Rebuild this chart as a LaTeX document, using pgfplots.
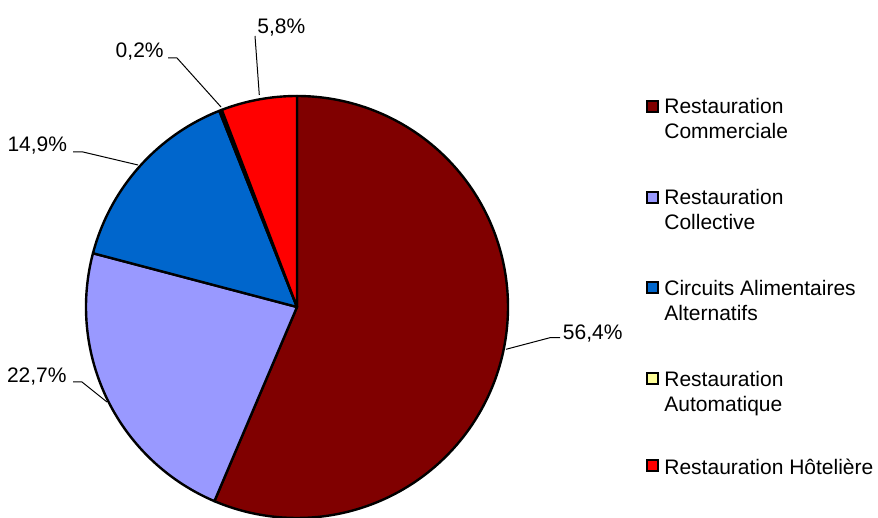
\documentclass[border=0pt]{standalone}
\usepackage{pgfplots}
\pgfplotsset{compat=1.18}
\usepackage{pgfplotstable}
\usepackage{fontspec}
\setmainfont{Liberation Sans}
\definecolor{cCom}{HTML}{800000}
\definecolor{cCol}{HTML}{9999FF}
\definecolor{cCir}{HTML}{0066CC}
\definecolor{cAut}{HTML}{FFFF99}
\definecolor{cHot}{HTML}{FF0000}

\pgfplotstableread[col sep=comma]{
label,value
Commerciale,56.4
Collective,22.7
Circuits,14.9
Automatique,0.2
Hoteliere,5.8
}\piedata

\begin{document}
\begin{tikzpicture}[
  lab/.style={font=\fontsize{10.5pt}{12.5pt}\selectfont, inner sep=0pt},
  lead/.style={draw=black, line width=0.5pt},
]
\pgfplotstablegetelem{0}{value}\of\piedata \let\vA\pgfplotsretval
\pgfplotstablegetelem{1}{value}\of\piedata \let\vB\pgfplotsretval
\pgfplotstablegetelem{2}{value}\of\piedata \let\vC\pgfplotsretval
\pgfplotstablegetelem{3}{value}\of\piedata \let\vD\pgfplotsretval
\pgfplotstablegetelem{4}{value}\of\piedata \let\vE\pgfplotsretval
\pgfmathsetmacro\aA{90}
\pgfmathsetmacro\aB{\aA-3.6*\vA}
\pgfmathsetmacro\aC{\aB-3.6*\vB}
\pgfmathsetmacro\aD{\aC-3.6*\vC}
\pgfmathsetmacro\aE{\aD-3.6*\vD}
\pgfmathsetmacro\aF{\aE-3.6*\vE}
\begin{axis}[
  hide axis, scale only axis, width=439pt, height=259pt,
  xmin=0, xmax=878, ymin=0, ymax=518, clip=false,
  every axis plot/.append style={draw=black, line width=1.2pt, line join=round, samples=150},
]
\addplot[fill=cCom, domain=\aB:\aA] ({297+211*cos(x)},{211+211*sin(x)}) -- (297,211) -- cycle;
\addplot[fill=cCol, domain=\aC:\aB] ({297+211*cos(x)},{211+211*sin(x)}) -- (297,211) -- cycle;
\addplot[fill=cCir, domain=\aD:\aC] ({297+211*cos(x)},{211+211*sin(x)}) -- (297,211) -- cycle;
\addplot[fill=cAut, domain=\aE:\aD, samples=10] ({297+211*cos(x)},{211+211*sin(x)}) -- (297,211) -- cycle;
\addplot[fill=cHot, domain=\aF:\aE] ({297+211*cos(x)},{211+211*sin(x)}) -- (297,211) -- cycle;

% leader lines and percentage labels
\draw[lead] (506,168.7) -- (550,180.3) -- (560,180.3);
\node[lab, anchor=base west] at (562.5,178) {56,4\%};
\draw[lead] (107,116) -- (82,136) -- (73,136);
\node[lab, anchor=base east] at (67,135) {22,7\%};
\draw[lead] (138,353) -- (83,366) -- (73,366);
\node[lab, anchor=base east] at (67.5,366) {14,9\%};
\draw[lead] (221,411) -- (177,460) -- (168,460);
\node[lab, anchor=base east] at (164,460) {0,2\%};
\draw[lead] (259.3,423) -- (255,482);
\node[lab, anchor=base west] at (257,484) {5,8\%};

% legend
\draw[black, line width=1pt, fill=cCom] (647,405.5) rectangle (658,416.5);
\node[lab, anchor=base west] at (664,404) {Restauration};
\node[lab, anchor=base west] at (664,379) {Commerciale};
\draw[black, line width=1pt, fill=cCol] (647,314.5) rectangle (658,325.5);
\node[lab, anchor=base west] at (664,313) {Restauration};
\node[lab, anchor=base west] at (664,288.5) {Collective};
\draw[black, line width=1pt, fill=cCir] (647,224.5) rectangle (658,235.5);
\node[lab, anchor=base west] at (664,222) {Circuits Alimentaires};
\node[lab, anchor=base west] at (664,197) {Alternatifs};
\draw[black, line width=1pt, fill=cAut] (647,133.5) rectangle (658,144.5);
\node[lab, anchor=base west] at (664,131) {Restauration};
\node[lab, anchor=base west] at (664,106) {Automatique};
\draw[black, line width=1pt, fill=cHot] (647,46.5) rectangle (658,57.5);
\node[lab, anchor=base west] at (664,43) {Restauration Hôtelière};
\end{axis}
\pgfresetboundingbox
\path (current axis.south west) rectangle (current axis.north east);
\end{tikzpicture}
\end{document}
